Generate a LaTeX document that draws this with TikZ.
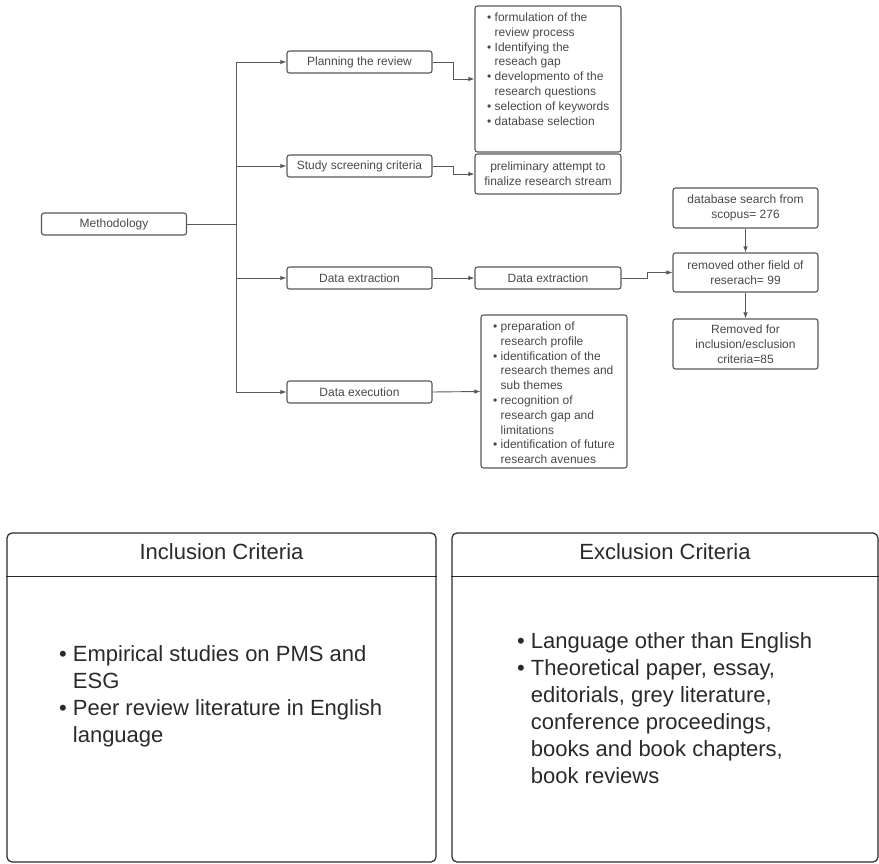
\documentclass[tikz,border=0pt]{standalone}
\usepackage{fontspec}
\setmainfont{Liberation Sans}
\usetikzlibrary{arrows.meta,calc,positioning}
\definecolor{mtLine}{RGB}{88,88,88}
\definecolor{mtInk}{RGB}{72,72,72}
\definecolor{mtDark}{RGB}{42,42,42}
\newcommand{\smallfont}{\fontsize{12}{14.8}\selectfont}
\newcommand{\bigfont}{\fontsize{22}{27}\selectfont}
% bullet list: width of the box, bullet gap, rows
\newcommand{\bulletlist}[3]{%
  \makebox[#1][l]{\begin{tabular}[t]{@{}l@{\hspace{#2}}l@{}}#3\end{tabular}}}
\tikzset{
  stepbox/.style={draw=mtLine, line width=1.1pt, rounded corners=2.5pt,
    minimum width=145pt, minimum height=22pt, inner sep=0pt,
    font=\smallfont, text=mtInk, align=center},
  listbox/.style={draw=mtLine, line width=1.1pt, rounded corners=2.5pt,
    inner xsep=12pt, inner ysep=0pt, font=\smallfont, text=mtInk},
  conn/.style={draw=mtLine, line width=0.9pt, -{Latex[length=6pt,width=4.5pt]}},
  panel/.style={draw=mtDark, line width=1.2pt, rounded corners=5pt,
    minimum height=329pt, inner sep=0pt},
  paneltext/.style={font=\bigfont, text=mtDark, inner sep=0pt}
}

\begin{document}
\begin{tikzpicture}[x=1pt,y=-1pt]
  \useasboundingbox (0,0) rectangle (879,864);

  % methodology tree
  \node[stepbox] (method) at (114,224) {Methodology};
  \coordinate (trunk) at (236,224);
  \node[stepbox] (plan) at (359.5,62) {Planning the review};
  \node[stepbox] (screen) at (359.5,166) {Study screening criteria};
  \node[stepbox] (extract) at (359.5,278) {Data extraction};
  \node[stepbox] (exec) at (359.5,392) {Data execution};
  \foreach \t in {plan,screen,extract,exec}
    \draw[conn] (method.east) -- (trunk) |- (\t.west);

  % second column
  \node[listbox, text height=15.5pt, text depth=130.5pt] (planlist) at (548,79)
    {\bulletlist{122pt}{3.5pt}{%
      \textbullet & formulation of the\\
                  & review process\\
      \textbullet & Identifying the\\
                  & reseach gap\\
      \textbullet & developmento of the\\
                  & research questions\\
      \textbullet & selection of keywords\\
      \textbullet & database selection}};
  \node[stepbox, minimum width=146pt, minimum height=40pt] (prelim) at (548,174)
    {preliminary attempt to\\finalize research stream};
  \node[stepbox, minimum width=146pt] (dataext) at (548,278) {Data extraction};
  \node[listbox, text height=15.5pt, text depth=137.5pt] (execlist) at (554,391.5)
    {\bulletlist{122pt}{3.5pt}{%
      \textbullet & preparation of\\
                  & research profile\\
      \textbullet & identification of the\\
                  & research themes and\\
                  & sub themes\\
      \textbullet & recognition of\\
                  & research gap and\\
                  & limitations\\
      \textbullet & identification of future\\
                  & research avenues}};
  \draw[conn] (plan.east) -- ++(21,0) |- (planlist.west);
  \draw[conn] (screen.east) -- ++(21,0) |- (prelim.west);
  \draw[conn] (extract.east) -- (dataext.west);
  \draw[conn] (exec.east) -- (execlist.west);

  % search counts
  \node[stepbox, minimum height=40pt] (dbsearch) at (745.5,208)
    {database search from\\scopus= 276};
  \node[stepbox, minimum height=39pt] (removed) at (745.5,272.5)
    {removed other field of\\reserach= 99};
  \node[stepbox, minimum height=50pt] (removedcrit) at (745.5,344)
    {Removed for\\inclusion/esclusion\\criteria=85};
  \draw[conn] (dataext.east) -- ++(26,0) |- (removed.west);
  \draw[conn] (dbsearch.south) -- (removed.north);
  \draw[conn] (removed.south) -- (removedcrit.north);

  % criteria panels
  \node[panel, minimum width=429pt] (incl) at (221.5,697.5) {};
  \node[panel, minimum width=426pt] (excl) at (665,697.5) {};
  \draw[draw=mtDark, line width=1.2pt] ([yshift=-44pt]incl.north west) -- ([yshift=-44pt]incl.north east);
  \draw[draw=mtDark, line width=1.2pt] ([yshift=-44pt]excl.north west) -- ([yshift=-44pt]excl.north east);
  \node[paneltext, anchor=base] (incltitle) at ([yshift=-27pt]incl.north) {Inclusion Criteria};
  \node[paneltext, anchor=base] (excltitle) at ([yshift=-27pt]excl.north) {Exclusion Criteria};
  \node[paneltext, anchor=base west] (incltext) at (59,661)
    {\bulletlist{360pt}{6pt}{%
      \textbullet & Empirical studies on PMS and\\
                  & ESG\\
      \textbullet & Peer review literature in English\\
                  & language}};
  \node[paneltext, anchor=base west] (excltext) at (517,648)
    {\bulletlist{330pt}{6pt}{%
      \textbullet & Language other than English\\
      \textbullet & Theoretical paper, essay,\\
                  & editorials, grey literature,\\
                  & conference proceedings,\\
                  & books and book chapters,\\
                  & book reviews}};
\end{tikzpicture}
\end{document}
